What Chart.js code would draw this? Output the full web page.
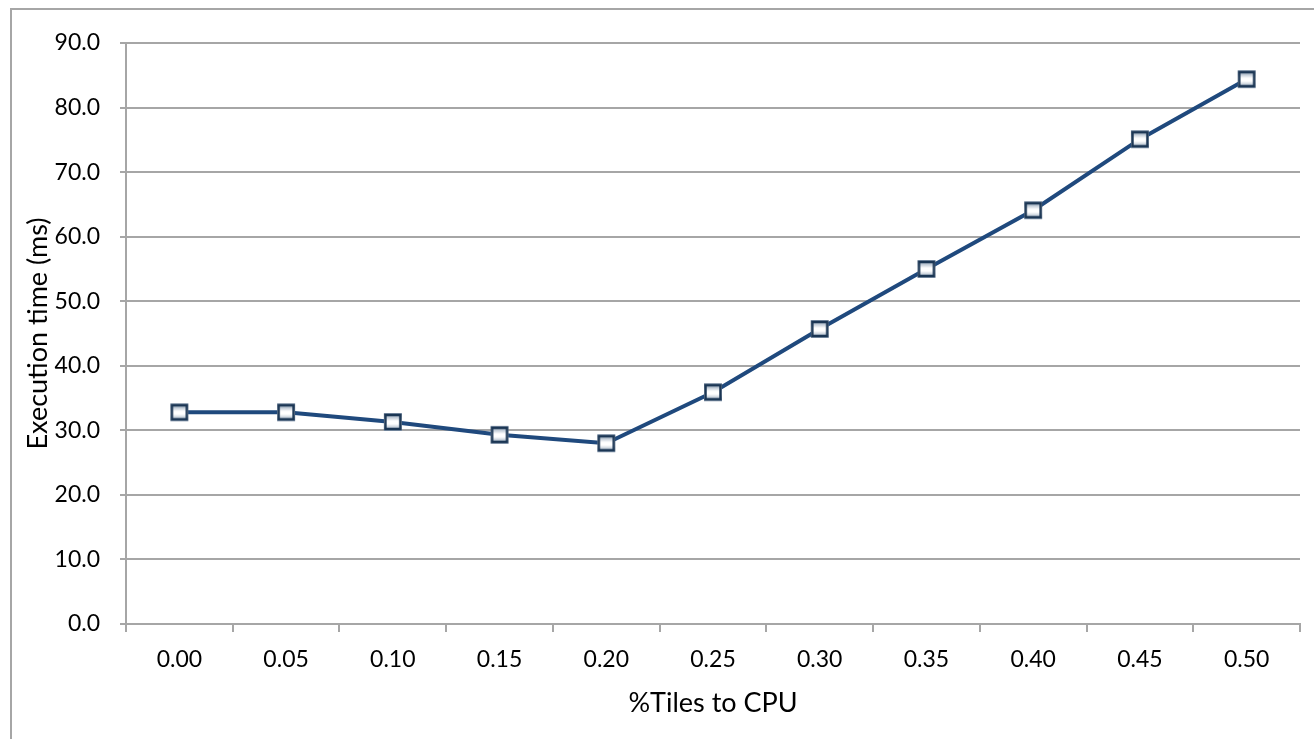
<!DOCTYPE html>
<html>
<head>
<meta charset="utf-8">
<title>Execution time vs %Tiles to CPU</title>
<script src="https://cdn.jsdelivr.net/npm/chart.js@4.4.1/dist/chart.umd.min.js"></script>
<style>
  html, body { margin: 0; padding: 0; background: #fff; overflow: hidden; }
  #wrap { position: relative; width: 1314px; height: 739px; }
</style>
</head>
<body>
<div id="wrap"><canvas id="chart" width="1314" height="739"></canvas></div>
<script>
// x categories: share of tiles sent to the CPU
const tileShare = ['0.00', '0.05', '0.10', '0.15', '0.20', '0.25', '0.30', '0.35', '0.40', '0.45', '0.50'];
// measured execution time in ms
const execTime = [32.8, 32.8, 31.3, 29.3, 28.0, 35.9, 45.7, 55.0, 64.1, 75.1, 84.4];
// y axis range
const yMin = 0;
const yMax = 90;
const yStep = 10;

const FONT = 'Lato, "Open Sans", sans-serif';
const GRID = '#a6a6a6';

// square marker with a grey-blue shaded fill, built once and reused as pointStyle
function makeMarker() {
    const s = 20;
    const c = document.createElement('canvas');
    c.width = s; c.height = s;
    const g = c.getContext('2d');
    const grad = g.createLinearGradient(0, 0, 0, s);
    grad.addColorStop(0, '#71869f');
    grad.addColorStop(0.3, '#c9d2dc');
    grad.addColorStop(0.45, '#ffffff');
    grad.addColorStop(0.6, '#ffffff');
    grad.addColorStop(0.75, '#c9d2dc');
    grad.addColorStop(1, '#71869f');
    g.fillStyle = grad;
    g.fillRect(1, 1, s - 2, s - 2);
    g.strokeStyle = '#1b3654';
    g.lineWidth = 2.5;
    g.strokeRect(2.5, 3, s - 5, s - 6);
    return c;
}

// outer frame of the chart box
const framePlugin = {
    id: 'frame',
    beforeDraw(chart) {
        const ctx = chart.ctx;
        ctx.save();
        ctx.strokeStyle = GRID;
        ctx.lineWidth = 2;
        ctx.strokeRect(11, 9, 1400, 800);
        ctx.restore();
    }
};

const ctx = document.getElementById('chart').getContext('2d');
new Chart(ctx, {
    type: 'line',
    data: {
        labels: tileShare,
        datasets: [{
            data: execTime,
            borderColor: '#1f497d',
            borderWidth: 4,
            tension: 0,
            pointStyle: makeMarker(),
            pointRadius: 10,
            pointHoverRadius: 10,
            fill: false
        }]
    },
    options: {
        responsive: false,
        animation: false,
        events: [],
        layout: { padding: { top: 43, right: 14, left: 0, bottom: 0 } },
        plugins: {
            legend: { display: false },
            tooltip: { enabled: false }
        },
        scales: {
            x: {
                offset: true,
                grid: {
                    offset: true,
                    drawOnChartArea: false,
                    color: GRID,
                    lineWidth: 2,
                    tickLength: 8
                },
                border: { color: GRID, width: 2 },
                ticks: {
                    color: '#000',
                    font: { family: FONT, size: 23 },
                    padding: 14,
                    maxRotation: 0
                },
                title: {
                    display: true,
                    text: '%Tiles to CPU',
                    color: '#000',
                    font: { family: FONT, size: 27 },
                    padding: { top: 0, bottom: 20 }
                },
                afterFit(scale) { scale.height = 115; }
            },
            y: {
                min: yMin,
                max: yMax,
                grid: {
                    color: GRID,
                    lineWidth: 2,
                    tickLength: 6
                },
                border: { color: GRID, width: 2 },
                ticks: {
                    stepSize: yStep,
                    color: '#000',
                    font: { family: FONT, size: 23 },
                    padding: 20,
                    callback: v => v.toFixed(1)
                },
                title: {
                    display: true,
                    text: 'Execution time (ms)',
                    color: '#000',
                    font: { family: FONT, size: 27 },
                    padding: { top: 22, bottom: 0 }
                },
                afterFit(scale) { scale.width = 126; }
            }
        }
    },
    plugins: [framePlugin]
});
</script>
</body>
</html>
